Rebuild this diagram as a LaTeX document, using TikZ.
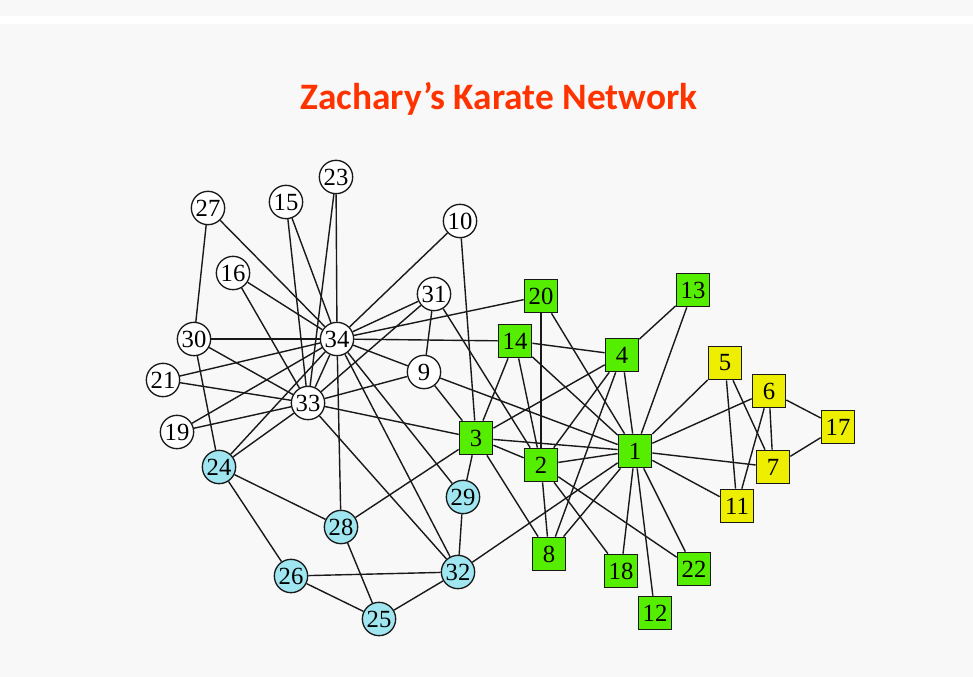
\documentclass[tikz,border=0pt]{standalone}
\usepackage{fontspec}
\setmainfont{Liberation Serif}
\newfontfamily\titlefont{Carlito}
\definecolor{titlered}{RGB}{255,51,0}
\definecolor{pagegray}{RGB}{248,248,248}
\definecolor{edgegray}{RGB}{25,25,25}
\definecolor{clubgreen}{RGB}{85,238,0}
\definecolor{clubyellow}{RGB}{238,238,0}
\definecolor{clubcyan}{RGB}{160,230,240}
\usetikzlibrary{backgrounds}

\begin{document}
\begin{tikzpicture}[x=0.75pt, y=-0.75pt,
    member/.style={draw=edgegray, line width=1pt, circle, minimum size=25pt,
      inner sep=0pt, font=\fontsize{18.5}{18.5}\selectfont},
    whitenode/.style={member, fill=white},
    cyannode/.style={member, fill=clubcyan},
    greenbox/.style={member, rectangle, fill=clubgreen, minimum size=25pt},
    yellowbox/.style={greenbox, fill=clubyellow},
    tie/.style={draw=edgegray, line width=1.05pt},
  ]
    \useasboundingbox (0,0) rectangle (973,677);

    \node[text=titlered, font=\titlefont\fontsize{28}{28}\selectfont\bfseries,
      anchor=base] (title) at (499,110) {Zachary’s Karate Network};

    % white members
    \node[whitenode] (n27) at (208,208) {27};
    \node[whitenode] (n15) at (286,202) {15};
    \node[whitenode] (n23) at (336,177) {23};
    \node[whitenode] (n10) at (460,221) {10};
    \node[whitenode] (n16) at (233,273) {16};
    \node[whitenode] (n31) at (434,294) {31};
    \node[whitenode] (n30) at (194,339) {30};
    \node[whitenode] (n34) at (337,339) {34};
    \node[whitenode] (n21) at (163,380) {21};
    \node[whitenode] (n9)  at (424,372) {9};
    \node[whitenode] (n33) at (308,403) {33};
    \node[whitenode] (n19) at (177,432) {19};
    % cyan members
    \node[cyannode] (n24) at (219,467) {24};
    \node[cyannode] (n28) at (341,527) {28};
    \node[cyannode] (n29) at (463,497) {29};
    \node[cyannode] (n26) at (291,576) {26};
    \node[cyannode] (n32) at (458,572) {32};
    \node[cyannode] (n25) at (379,619) {25};
    % green members
    \node[greenbox] (n20) at (541,296) {20};
    \node[greenbox] (n14) at (515,341) {14};
    \node[greenbox] (n4)  at (622,355) {4};
    \node[greenbox] (n13) at (693,290) {13};
    \node[greenbox] (n3)  at (476,438) {3};
    \node[greenbox] (n2)  at (541,465) {2};
    \node[greenbox] (n1)  at (635,451) {1};
    \node[greenbox] (n8)  at (549,554) {8};
    \node[greenbox] (n18) at (621,571) {18};
    \node[greenbox] (n22) at (694,569) {22};
    \node[greenbox] (n12) at (655,613) {12};
    % yellow members
    \node[yellowbox] (n5)  at (725,363) {5};
    \node[yellowbox] (n6)  at (769,391) {6};
    \node[yellowbox] (n7)  at (773,467) {7};
    \node[yellowbox] (n11) at (737,506) {11};
    \node[yellowbox] (n17) at (838,427) {17};

    % page and ties
    \begin{scope}[on background layer]
      \fill[pagegray] (0,0) rectangle (973,677);
      \fill[white] (0,16) rectangle (973,24);
      \path[tie] (n1) edge (n2) edge (n3) edge (n4) edge (n5) edge (n6) edge (n7)
        edge (n8) edge (n9) edge (n11) edge (n12) edge (n13) edge (n14)
        edge (n18) edge (n20) edge (n22) edge (n32);
      \path[tie] (n2) edge (n3) edge (n4) edge (n8) edge (n14) edge (n18)
        edge (n20) edge (n22) edge (n31);
      \path[tie] (n3) edge (n4) edge (n8) edge (n9) edge (n10) edge (n14)
        edge (n28) edge (n29) edge (n33);
      \path[tie] (n4) edge (n8) edge (n13) edge (n14);
      \path[tie] (n5) edge (n7) edge (n11);
      \path[tie] (n6) edge (n7) edge (n11) edge (n17);
      \path[tie] (n7) edge (n17);
      \path[tie] (n9) edge (n31) edge (n33) edge (n34);
      \path[tie] (n10) edge (n34);
      \path[tie] (n14) edge (n34);
      \path[tie] (n15) edge (n33) edge (n34);
      \path[tie] (n16) edge (n33) edge (n34);
      \path[tie] (n19) edge (n33) edge (n34);
      \path[tie] (n20) edge (n34);
      \path[tie] (n21) edge (n33) edge (n34);
      \path[tie] (n23) edge (n33) edge (n34);
      \path[tie] (n24) edge (n26) edge (n28) edge (n30) edge (n33) edge (n34);
      \path[tie] (n25) edge (n26) edge (n28) edge (n32);
      \path[tie] (n26) edge (n32);
      \path[tie] (n27) edge (n30) edge (n34);
      \path[tie] (n28) edge (n34);
      \path[tie] (n29) edge (n32) edge (n34);
      \path[tie] (n30) edge (n33) edge (n34);
      \path[tie] (n31) edge (n33) edge (n34);
      \path[tie] (n32) edge (n33) edge (n34);
      \path[tie] (n33) edge (n34);
    \end{scope}
  \end{tikzpicture}
\end{document}
